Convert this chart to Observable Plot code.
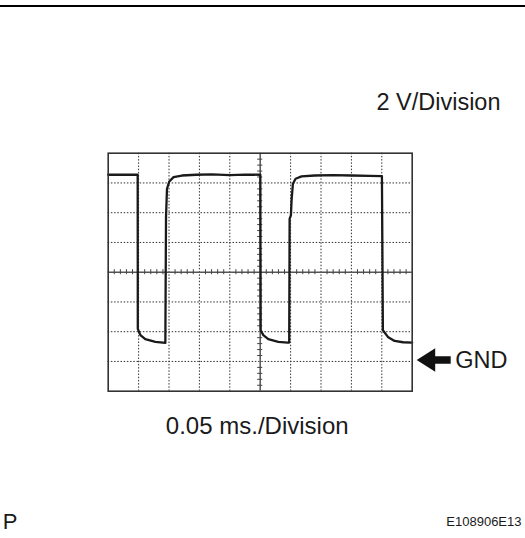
<!DOCTYPE html>
<html>
<head>
<meta charset="utf-8">
<script src="https://cdn.jsdelivr.net/npm/d3@7"></script>
<script src="https://cdn.jsdelivr.net/npm/@observablehq/plot@0.6"></script>
<style>
  html, body { margin: 0; padding: 0; background: #fff; }
  #wrap { position: relative; width: 525px; height: 538px; overflow: hidden; }
  #topline { position: absolute; left: 0; top: 5px; width: 525px; height: 2px; background: #000; }
  svg { display: block; }
</style>
</head>
<body>
<div id="wrap"><div id="topline"></div></div>
<script>
// Time (ms) and voltage (V)
const timeMs = [0, 0.0485, 0.0487, 0.053, 0.061, 0.0776, 0.094, 0.0945, 0.0951, 0.0967, 0.1005, 0.1075, 0.1213, 0.145, 0.1705, 0.2, 0.225, 0.2502,
                0.2508, 0.2551, 0.2633, 0.2797, 0.2951, 0.2977, 0.2984, 0.3005, 0.3016, 0.3038, 0.3082, 0.318, 0.3398, 0.37, 0.40, 0.43, 0.4502,
                0.4518, 0.46, 0.471, 0.485, 0.5];
const volts  = [12.55, 12.55, 2.19, 1.77, 1.5, 1.32, 1.25, 5.2, 9.7, 11.61, 12.1, 12.39, 12.5, 12.55, 12.57, 12.52, 12.56, 12.55,
                2.1, 1.77, 1.5, 1.32, 1.27, 1.27, 9.6, 9.82, 10.83, 11.95, 12.28, 12.44, 12.5, 12.52, 12.5, 12.48, 12.46,
                2.1, 1.65, 1.38, 1.29, 1.27];

// Grid (0.05 ms/div, 2 V/div)
const gridX = [0.05, 0.10, 0.15, 0.20, 0.30, 0.35, 0.40, 0.45];
const centerX = [0.25];
const gridY = [0, 2, 4, 8, 10, 12];
const centerY = [6];
const minorX = d3.range(1, 50).map(i => i * 0.01).filter(v => Math.abs(v * 20 - Math.round(v * 20)) > 1e-6);
const minorY = d3.range(-4, 35).map(i => i * 0.4).filter(v => Math.abs(v / 2 - Math.round(v / 2)) > 1e-6);

const labelV = "2 V/Division";
const labelT = "0.05 ms./Division";
const labelGnd = "GND";
const labelP = "P";
const labelCode = "E108906E13";
const gndLevel = [0];

const data = timeMs.map((t, i) => ({t, v: volts[i]}));
const font = "Liberation Sans, Arial, Helvetica, sans-serif";

const gndArrow = (index, scales, values, dimensions) => {
  const yFn = scales.y || (scales.scales && scales.scales.y);
  const y0 = yFn(0) - 1;
  const xr = dimensions.width - dimensions.marginRight;
  const tip = xr + 5, headEnd = xr + 23.5, tail = xr + 39;
  const hh = 11.7, sh = 3.7;
  const g = d3.create("svg:g");
  g.append("path")
    .attr("d", `M${tip},${y0} L${headEnd},${y0 - hh} L${headEnd},${y0 - sh} L${tail},${y0 - sh} L${tail},${y0 + sh} L${headEnd},${y0 + sh} L${headEnd},${y0 + hh} Z`)
    .attr("fill", "#111");
  return g.node();
};

const chart = Plot.plot({
  width: 525,
  height: 538,
  marginLeft: 107.7,
  marginRight: 113.3,
  marginTop: 152.7,
  marginBottom: 147.3,
  x: {domain: [0, 0.5], axis: null},
  y: {domain: [-2, 14], axis: null},
  style: {fontFamily: font, background: "#fff"},
  marks: [
    Plot.ruleX(gridX, {stroke: "#333", strokeWidth: 1, strokeDasharray: "1.5,1.7"}),
    Plot.ruleY(gridY, {stroke: "#333", strokeWidth: 1, strokeDasharray: "1.5,1.7"}),
    Plot.ruleX(centerX, {stroke: "#555", strokeWidth: 1.5}),
    Plot.ruleY(centerY, {stroke: "#555", strokeWidth: 1.5}),
    Plot.ruleX(minorX, {x: d => d, y1: 6 - 0.17, y2: 6 + 0.17, stroke: "#444", strokeWidth: 1}),
    Plot.ruleY(minorY, {y: d => d, x1: 0.25 - 0.0042, x2: 0.25 + 0.0042, stroke: "#444", strokeWidth: 1}),
    Plot.line(data, {x: "t", y: "v", stroke: "#1a1a1a", strokeWidth: 2.3, strokeLinejoin: "round", curve: "linear"}),
    Plot.frame({stroke: "#333", strokeWidth: 1.6}),
    Plot.text([labelV], {text: d => d, frameAnchor: "top-right", textAnchor: "end", lineAnchor: "bottom", dx: 88.3, dy: -43.7, fontSize: 23.5, fill: "#1a1a1a"}),
    Plot.text([labelT], {text: d => d, frameAnchor: "bottom", textAnchor: "middle", lineAnchor: "bottom", dx: -3, dy: 42.6, fontSize: 24, fill: "#1a1a1a"}),
    Plot.text(gndLevel, {y: d => d, text: () => labelGnd, frameAnchor: "right", textAnchor: "start", lineAnchor: "bottom", dx: 43, dy: 7, fontSize: 23.5, fill: "#1a1a1a"}),
    Plot.text([labelP], {text: d => d, frameAnchor: "bottom-left", textAnchor: "start", lineAnchor: "bottom", dx: -105.5, dy: 137.5, fontSize: 22, fill: "#1a1a1a"}),
    Plot.text([labelCode], {text: d => d, frameAnchor: "bottom-right", textAnchor: "end", lineAnchor: "bottom", dx: 109.3, dy: 134.3, fontSize: 13, fill: "#1a1a1a"}),
    gndArrow
  ]
});

document.getElementById("wrap").appendChild(chart);
</script>
</body>
</html>
